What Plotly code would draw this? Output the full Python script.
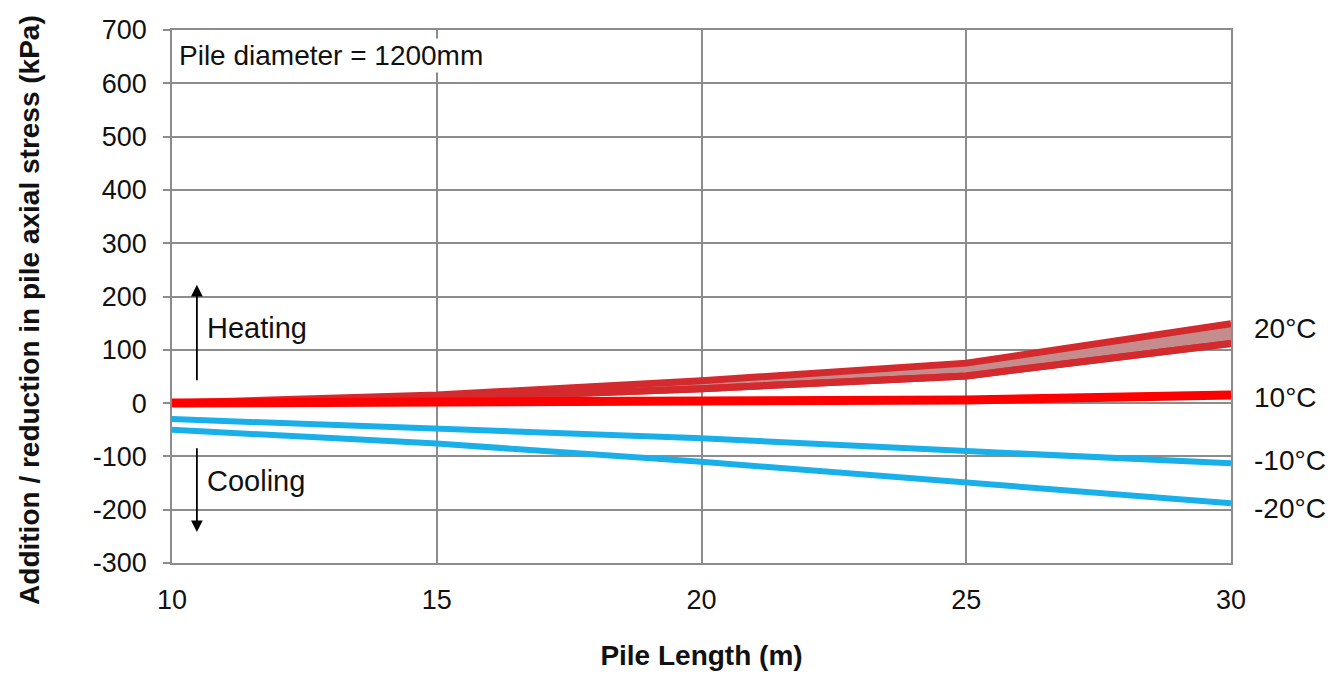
import plotly.graph_objects as go

# Data
pile_length = [10, 15, 20, 25, 30]
heat20_upper = [0, 15, 42, 75, 149]
heat20_lower = [0, 8, 27, 51, 112]
heat10 = [0, 2, 3, 6, 15]
cool10 = [-30, -48, -66, -90, -113]
cool20 = [-50, -76, -110, -148, -188]
x_ticks = [10, 15, 20, 25, 30]
y_ticks = [-300, -200, -100, 0, 100, 200, 300, 400, 500, 600, 700]
end_labels = ["20°C", "10°C", "-10°C", "-20°C"]
end_label_y = [140, 11, -107, -197]

FONT = "Liberation Sans, Arial, sans-serif"
BAND_EDGE = "#d42a2e"
BAND_FILL = "rgba(196,140,140,1)"
RED = "#ff0000"
BLUE = "#19b0ea"
GRID = "#8c8c8c"
TXT = "#111111"

fig = go.Figure()

# 20°C band (fill)
fig.add_trace(go.Scatter(x=pile_length, y=heat20_lower, mode="lines",
                         line=dict(color=BAND_EDGE, width=7), showlegend=False, hoverinfo="skip"))
fig.add_trace(go.Scatter(x=pile_length, y=heat20_upper, mode="lines", fill="tonexty",
                         fillcolor=BAND_FILL,
                         line=dict(color=BAND_EDGE, width=7), showlegend=False, name="20°C"))
fig.add_trace(go.Scatter(x=pile_length, y=heat20_lower, mode="lines",
                         line=dict(color=BAND_EDGE, width=7), showlegend=False, name="20°C lower"))
# 10°C
fig.add_trace(go.Scatter(x=pile_length, y=heat10, mode="lines",
                         line=dict(color=RED, width=9), showlegend=False, name="10°C"))
# cooling
fig.add_trace(go.Scatter(x=pile_length, y=cool10, mode="lines",
                         line=dict(color=BLUE, width=6), showlegend=False, name="-10°C"))
fig.add_trace(go.Scatter(x=pile_length, y=cool20, mode="lines",
                         line=dict(color=BLUE, width=6), showlegend=False, name="-20°C"))

annotations = [
    dict(x=0.005, y=0.985, xref="paper", yref="paper", xanchor="left", yanchor="top",
         text="Pile diameter = 1200mm", showarrow=False, bgcolor="white",
         font=dict(size=28, color=TXT, family=FONT)),
    # heating arrow
    dict(x=10.47, y=222, ax=10.47, ay=40, xref="x", yref="y", axref="x", ayref="y",
         text="", showarrow=True, arrowhead=2, arrowsize=1.3, arrowwidth=1.8, arrowcolor="black"),
    dict(x=10.62, y=140, xref="x", yref="y", xanchor="left", yanchor="middle",
         text="Heating", showarrow=False, font=dict(size=29, color=TXT, family=FONT)),
    # cooling arrow
    dict(x=10.47, y=-242, ax=10.47, ay=-82, xref="x", yref="y", axref="x", ayref="y",
         text="", showarrow=True, arrowhead=2, arrowsize=1.3, arrowwidth=1.8, arrowcolor="black"),
    dict(x=10.62, y=-147, xref="x", yref="y", xanchor="left", yanchor="middle",
         text="Cooling", showarrow=False, font=dict(size=29, color=TXT, family=FONT)),
    # y-axis title
    dict(x=-0.134, y=0.475, xref="paper", yref="paper", xanchor="center", yanchor="middle",
         text="<b>Addition / reduction in pile axial stress (kPa)</b>", textangle=-90,
         showarrow=False, font=dict(size=28, color=TXT, family=FONT)),
]
for lbl, yv in zip(end_labels, end_label_y):
    annotations.append(dict(x=1.02, y=yv, xref="paper", yref="y", xanchor="left", yanchor="middle",
                            text=lbl, showarrow=False, font=dict(size=28, color=TXT, family=FONT)))

fig.update_layout(
    width=1337, height=675,
    margin=dict(l=164, r=114, t=22, b=120, autoexpand=False),
    paper_bgcolor="white", plot_bgcolor="white",
    font=dict(family=FONT, color=TXT, size=26),
    annotations=annotations,
    showlegend=False,
)
fig.update_xaxes(
    range=[10, 30], tickvals=x_ticks, ticktext=[str(v) for v in x_ticks],
    showgrid=True, gridcolor=GRID, gridwidth=1.5,
    showline=True, linecolor=GRID, linewidth=1.5, mirror=True,
    ticks="", ticklabelstandoff=12, automargin=False,
    tickfont=dict(size=27, family=FONT, color=TXT),
    title=dict(text="<b>Pile Length (m)</b>", font=dict(size=28, family=FONT, color=TXT), standoff=31),
    zeroline=False,
)
fig.update_yaxes(
    range=[-300, 700], tickvals=y_ticks, ticktext=[str(v) for v in y_ticks],
    showgrid=True, gridcolor=GRID, gridwidth=1.5,
    showline=True, linecolor=GRID, linewidth=1.5, mirror=True,
    ticks="outside", ticklen=7, tickcolor=GRID, tickwidth=1.5, ticklabelstandoff=11,
    automargin=False,
    tickfont=dict(size=27, family=FONT, color=TXT),
    zeroline=False,
)

fig.write_html("out.html")
